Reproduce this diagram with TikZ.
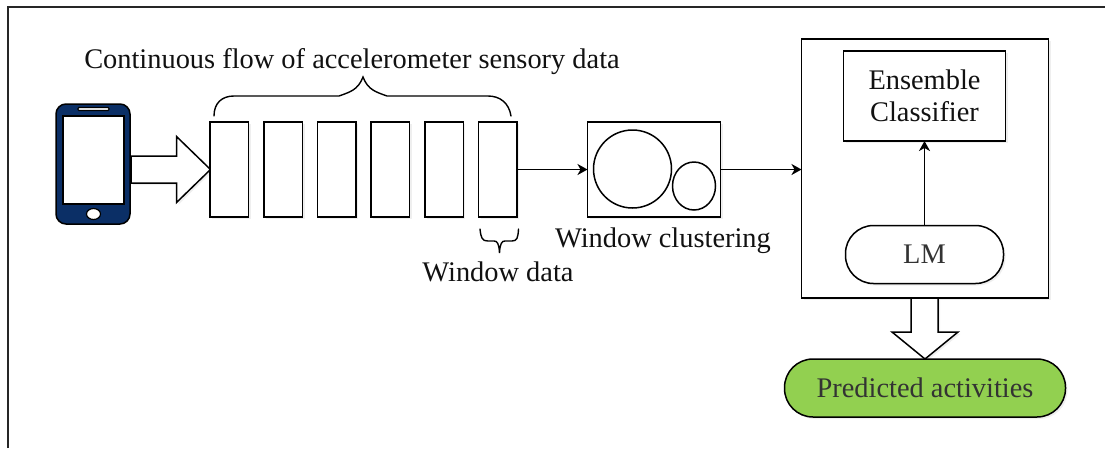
\documentclass[tikz,border=0pt]{standalone}
\usepackage{fontspec}
\setmainfont{Liberation Serif}
\usetikzlibrary{arrows.meta,shapes.geometric,shadows}
\definecolor{phone}{HTML}{0B2F66}
\definecolor{lime}{HTML}{92D050}
\definecolor{txt}{HTML}{111111}
\definecolor{soft}{HTML}{333333}
\tikzset{x=1pt,y=-1pt,
 softshadow/.style={drop shadow={opacity=.13,shadow xshift=2pt,shadow yshift=-2pt}},
 line/.style={draw=black,line width=1.5pt,outer sep=0pt},
 winbox/.style={line,fill=white,softshadow,minimum width=38.5pt,minimum height=95pt,inner sep=0pt,anchor=north west},
 lbl/.style={inner sep=0pt,text=txt,font=\fontsize{28.4}{32}\selectfont},
 link/.style={draw=black,line width=1.7pt,-{Stealth[length=10pt,width=11pt,inset=3pt]}},
 bigarrow/.style={line,fill=white,softshadow,line join=miter}}
\begin{document}
\begin{tikzpicture}
\useasboundingbox (0,0) rectangle (1105,448);
\draw[line width=2pt,draw=black!85] (8.3,448) -- (8.3,7) -- (1105,7);
% phone
\node[line,fill=phone,rounded corners=10pt,minimum width=74pt,minimum height=120pt,inner sep=0pt] (phonebody) at (93,164) {};
\node[line,fill=white,minimum width=61pt,minimum height=88pt,inner sep=0pt] (screen) at (93.3,160) {};
\node[line,line width=1.2pt,fill=white,rounded corners=1pt,minimum width=31pt,minimum height=3pt,inner sep=0pt] (speaker) at (93.5,109) {};
\node[line,line width=1.2pt,fill=white,ellipse,minimum width=14pt,minimum height=11pt,inner sep=0pt] (homebtn) at (93.5,214) {};
% arrow
\draw[bigarrow] (131,156) -- (176.5,156) -- (176.5,136.5) -- (210.5,169.5) -- (176.5,202.5) -- (176.5,183) -- (131,183) -- cycle;
% windows
\node[winbox] (w1) at (210,122) {};
\node[winbox] (w2) at (264,122) {};
\node[winbox] (w3) at (317.5,122) {};
\node[winbox] (w4) at (371,122) {};
\node[winbox] (w5) at (424.8,122) {};
\node[winbox] (w6) at (478.5,122) {};
% braces
\draw[line width=1.4pt,line cap=round] (214,116) .. controls (214,103) and (222,96) .. (234,96) -- (339,96) .. controls (350,92) and (358,90) .. (363,77) .. controls (368,90) and (376,92) .. (387,96) -- (488,96) .. controls (500,96) and (509,103) .. (511,116);
\draw[line width=1.4pt,line cap=round] (480,229) .. controls (481,238) and (482,241) .. (488,241) -- (494,241) .. controls (497,241) and (499,243) .. (499.5,253) .. controls (500,243) and (502,241) .. (505,241) -- (512,241) .. controls (517,241) and (518,238) .. (518.5,229);
\node[lbl,anchor=center] (title) at (352,62) {Continuous flow of accelerometer sensory data};
\node[lbl,anchor=center] (wdata) at (498,272) {Window data};
% cluster
\node[line,fill=white,softshadow,minimum width=133pt,minimum height=95pt,inner sep=0pt,anchor=north west] (cluster) at (587.5,122) {};
\draw[line,fill=white] (632.5,169) circle[radius=39];
\draw[line,fill=white] (694,186) ellipse[x radius=21.5,y radius=24];
\node[lbl,anchor=center] (wclus) at (663,240.5) {Window clustering};
\draw[link] (w6.east) -- (cluster.west);
% classifier
\node[line,fill=white,softshadow,minimum width=247pt,minimum height=259pt,inner sep=0pt,anchor=north west] (outer) at (801.5,39) {};
\node[line,fill=white,softshadow,minimum width=162pt,minimum height=90pt,inner sep=0pt,anchor=north west,align=center,text=txt,font=\fontsize{28.4}{32}\selectfont] (ens) at (843.5,51) {Ensemble\\Classifier};
\node[line,fill=white,softshadow,rounded corners=28pt,minimum width=158pt,minimum height=58pt,inner sep=0pt,text=soft,font=\fontsize{28.4}{32}\selectfont] (lm) at (924.5,254.5) {LM};
\draw[link] (lm.north) -- (ens.south);
\draw[link] (cluster.east) -- (outer.west |- cluster.east);
% down arrow
\draw[bigarrow] (911,298) -- (938,298) -- (938,332) -- (958,332) -- (925,359) -- (892,332) -- (911,332) -- cycle;
\node[line,fill=lime,softshadow,rounded corners=28.5pt,minimum width=281pt,minimum height=58pt,inner sep=0pt,text=soft,font=\fontsize{28.4}{32}\selectfont] (pred) at (925,388) {Predicted activities};
\end{tikzpicture}
\end{document}
